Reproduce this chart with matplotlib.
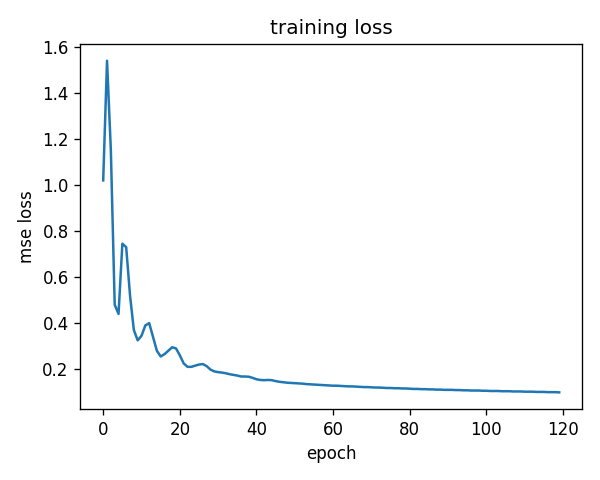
import matplotlib
matplotlib.use("Agg")
import matplotlib.pyplot as plt

# training loss per epoch
loss = [
    1.02, 1.54, 1.15, 0.48, 0.44, 0.745, 0.73, 0.52, 0.37, 0.325,
    0.345, 0.39, 0.40, 0.34, 0.28, 0.255, 0.265, 0.28, 0.295, 0.29,
    0.26, 0.225, 0.21, 0.21, 0.215, 0.22, 0.222, 0.213, 0.198, 0.19,
    0.187, 0.185, 0.182, 0.178, 0.175, 0.172, 0.168, 0.168, 0.167, 0.162,
    0.156, 0.153, 0.152, 0.153, 0.152, 0.148, 0.145, 0.143, 0.141, 0.140,
    0.139, 0.138, 0.137, 0.135, 0.134, 0.133, 0.132, 0.131, 0.130, 0.129,
    0.128, 0.128, 0.127, 0.126, 0.125, 0.125, 0.124, 0.123, 0.122, 0.122,
    0.121, 0.120, 0.120, 0.119, 0.118, 0.118, 0.117, 0.117, 0.116, 0.116,
    0.115, 0.114, 0.114, 0.113, 0.113, 0.112, 0.112, 0.111, 0.111, 0.110,
    0.110, 0.110, 0.109, 0.109, 0.108, 0.108, 0.107, 0.107, 0.107, 0.106,
    0.106, 0.105, 0.105, 0.105, 0.104, 0.104, 0.104, 0.103, 0.103, 0.103,
    0.102, 0.102, 0.102, 0.101, 0.101, 0.101, 0.100, 0.100, 0.100, 0.099,
]
epochs = list(range(len(loss)))

plt.figure(figsize=(5, 4), dpi=120)
plt.plot(epochs, loss)
plt.title("training loss")
plt.xlabel("epoch")
plt.ylabel("mse loss")
plt.subplots_adjust(left=0.134, right=0.970, top=0.908, bottom=0.148)
plt.savefig("out.png")
